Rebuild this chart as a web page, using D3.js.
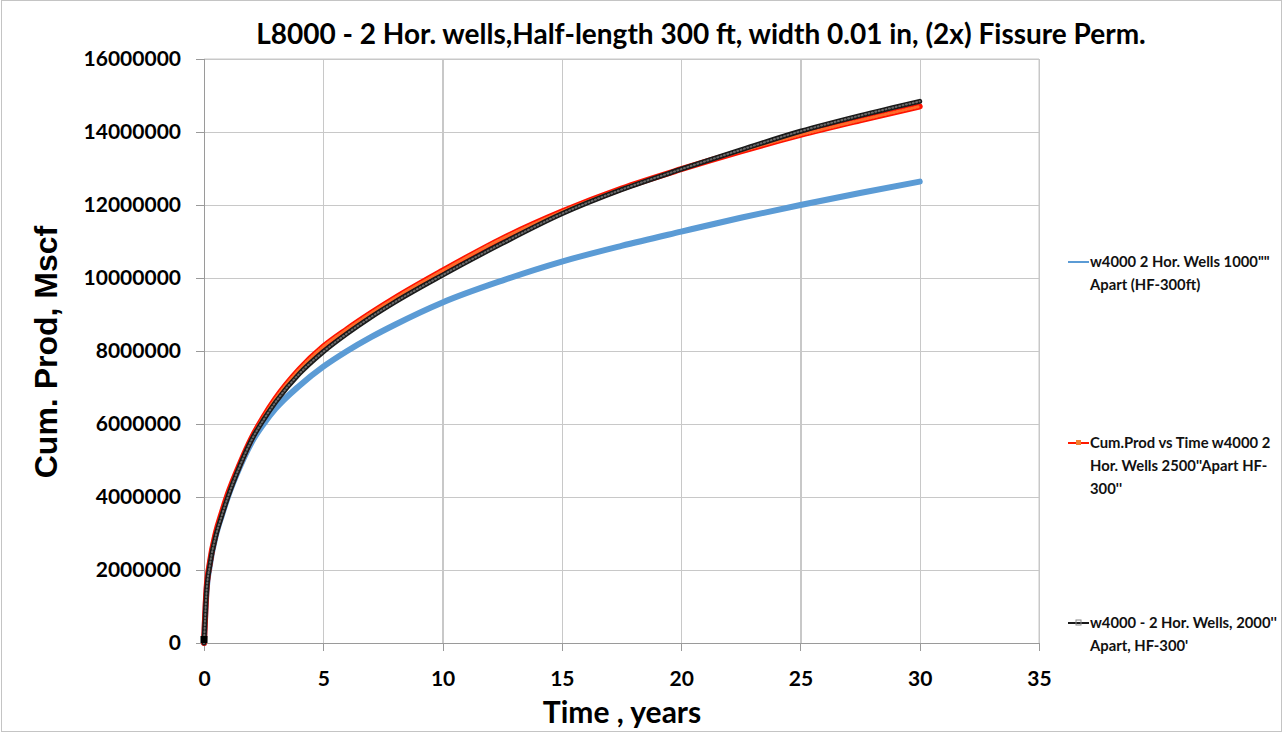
<!DOCTYPE html>
<meta charset="utf-8">
<style>
body {
  margin: 0;
  background-color: #ffffff;
}
.axis text {
  font: bold 21px Lato, sans-serif;
  fill: #000;
}
.axis path,
.axis line {
  fill: none;
  stroke: #9a9a9a;
  stroke-width: 1px;
  shape-rendering: crispEdges;
}
.grid line {
  stroke: #c8c8c8;
  stroke-width: 1.3px;
  shape-rendering: crispEdges;
}
.grid path {
  display: none;
}
.line {
  fill: none;
  stroke-linejoin: round;
  stroke-linecap: round;
}
.legend text {
  font: bold 14.8px Lato, sans-serif;
  fill: #111;
}
</style>
<body>
<svg width="1283" height="733"></svg>

<script src="https://cdn.jsdelivr.net/npm/d3@7"></script>

<script>

// time in years
var years = [0, 0.1, 0.25, 0.5, 0.75, 1, 1.5, 2, 2.5, 3, 4, 5, 6, 7, 8, 10, 12.5, 15, 17.5, 20, 22.5, 25, 27.5, 30];

// cumulative production, Mscf
var prod1000 = [0, 1350000, 2150000, 2950000, 3500000, 4000000, 4820000, 5500000, 6000000, 6420000, 7050000, 7570000, 8000000, 8380000, 8720000, 9330000, 9930000, 10450000, 10880000, 11270000, 11650000, 12000000, 12330000, 12640000];
var prod2500 = [0, 1420000, 2220000, 3030000, 3580000, 4080000, 4900000, 5620000, 6200000, 6700000, 7500000, 8120000, 8600000, 9040000, 9450000, 10200000, 11080000, 11820000, 12450000, 12980000, 13470000, 13920000, 14320000, 14700000];
var prod2000 = [0, 1350000, 2150000, 2950000, 3500000, 4000000, 4850000, 5570000, 6120000, 6600000, 7380000, 7980000, 8480000, 8930000, 9340000, 10080000, 10950000, 11760000, 12420000, 12980000, 13510000, 14020000, 14450000, 14840000];

var xTicks = [0, 5, 10, 15, 20, 25, 30, 35];
var yTicks = [0, 2000000, 4000000, 6000000, 8000000, 10000000, 12000000, 14000000, 16000000];

var titleText = "L8000 - 2 Hor. wells,Half-length 300 ft, width 0.01 in, (2x) Fissure Perm.";

var legendItems = [
	{lines: ["w4000 2 Hor. Wells 1000\"\"", "Apart (HF-300ft)"], color: "#5b9bd5", y: 262},
	{lines: ["Cum.Prod vs Time w4000 2", "Hor. Wells 2500''Apart HF-", "300''"], color: "#ff1a00", y: 443},
	{lines: ["w4000 - 2 Hor. Wells, 2000''", "Apart, HF-300'"], color: "#1a1a1a", y: 623}
];

var margin = {top: 59, right: 244, bottom: 90, left: 204},
    width = 1283 - margin.left - margin.right,
    height = 733 - margin.top - margin.bottom;

var svg = d3.select("svg");

// outer chart frame
svg.append("rect")
	.attr("x", 1.5)
	.attr("y", 0.5)
	.attr("width", 1280)
	.attr("height", 731)
	.attr("fill", "#fff")
	.attr("stroke", "#c4c4c4");

var x = d3.scaleLinear().domain([0, 35]).range([0, width]);
var y = d3.scaleLinear().domain([0, 16000000]).range([height, 0]);

var g = svg.append("g")
	.attr("transform", "translate(" + margin.left + "," + margin.top + ")");

// gridlines
g.append("g")
	.attr("class", "grid")
	.call(d3.axisLeft(y).tickValues(yTicks).tickSize(-width).tickFormat(""));

g.append("g")
	.attr("class", "grid")
	.attr("transform", "translate(0," + height + ")")
	.call(d3.axisBottom(x).tickValues(xTicks).tickSize(-height).tickFormat(""));

// plot area border top/right
g.append("line")
	.attr("x1", 0).attr("x2", width)
	.attr("y1", 0).attr("y2", 0)
	.attr("stroke", "#c8c8c8");
g.append("line")
	.attr("x1", width).attr("x2", width)
	.attr("y1", 0).attr("y2", height)
	.attr("stroke", "#c8c8c8");

var yAxis = d3.axisLeft(y).tickValues(yTicks).tickSize(8).tickPadding(15).tickFormat(d3.format("d"));
var xAxis = d3.axisBottom(x).tickValues(xTicks).tickSize(8).tickPadding(20).tickFormat(d3.format("d"));

g.append("g")
	.attr("class", "axis axis--y")
	.call(yAxis)
	.select(".domain").attr("d", "M0," + height + "V0");

g.append("g")
	.attr("class", "axis axis--x")
	.attr("transform", "translate(0," + height + ")")
	.call(xAxis)
	.select(".domain").attr("d", "M0,0H" + width);

var line = d3.line()
	.x(function(d) { return x(d[0]); })
	.y(function(d) { return y(d[1]); })
	.curve(d3.curveMonotoneX);

function pairs(vals) {
	return years.map(function(t, i) { return [t, vals[i]]; });
}

// blue series
g.append("path")
	.datum(pairs(prod1000))
	.attr("class", "line")
	.attr("stroke", "#5b9bd5")
	.attr("stroke-width", 6)
	.attr("d", line);

// red series
g.append("path")
	.datum(pairs(prod2500))
	.attr("class", "line")
	.attr("stroke", "#ff1200")
	.attr("stroke-width", 6)
	.attr("d", line);
g.append("path")
	.datum(pairs(prod2500))
	.attr("class", "line")
	.attr("stroke", "#ff6a2a")
	.attr("stroke-width", 3)
	.attr("stroke-dasharray", "1,2")
	.attr("d", line);

// black series
g.append("path")
	.datum(pairs(prod2000))
	.attr("class", "line")
	.attr("stroke", "#1a1a1a")
	.attr("stroke-width", 5)
	.attr("d", line);
g.append("path")
	.datum(pairs(prod2000))
	.attr("class", "line")
	.attr("stroke", "#6a6a6a")
	.attr("stroke-width", 2)
	.attr("stroke-dasharray", "1,2.5")
	.attr("d", line);

g.append("rect")
	.attr("x", x(0) - 3.5)
	.attr("y", y(0) - 7)
	.attr("width", 7)
	.attr("height", 7)
	.attr("fill", "#000");

// titles
svg.append("text")
	.attr("x", 701)
	.attr("y", 44)
	.attr("text-anchor", "middle")
	.style("font", "bold 28px Lato, sans-serif")
	.text(titleText);

svg.append("text")
	.attr("x", 622)
	.attr("y", 723)
	.attr("text-anchor", "middle")
	.style("font", "bold 30px Lato, sans-serif")
	.text("Time , years");

svg.append("text")
	.attr("transform", "translate(57,352)rotate(-90)")
	.attr("text-anchor", "middle")
	.style("font", "bold 32px 'Liberation Sans', Arial, sans-serif")
	.text("Cum. Prod, Mscf");

// legend
var legend = svg.append("g").attr("class", "legend");

legendItems.forEach(function(item) {
	var lg = legend.append("g").attr("transform", "translate(1068," + item.y + ")");
	lg.append("line")
		.attr("x1", 0).attr("x2", 21)
		.attr("y1", 0).attr("y2", 0)
		.attr("stroke", item.color)
		.attr("stroke-width", 2);
	lg.append("rect")
		.attr("x", 8).attr("y", -3)
		.attr("width", 5).attr("height", 5)
		.attr("fill", item.color === "#ff1a00" ? "#f08030" : "none")
		.attr("stroke", item.color === "#1a1a1a" ? "#888" : "none");
	item.lines.forEach(function(t, i) {
		lg.append("text")
			.attr("x", 22)
			.attr("y", i * 23 + 5)
			.text(t);
	});
});

</script>
</body>
